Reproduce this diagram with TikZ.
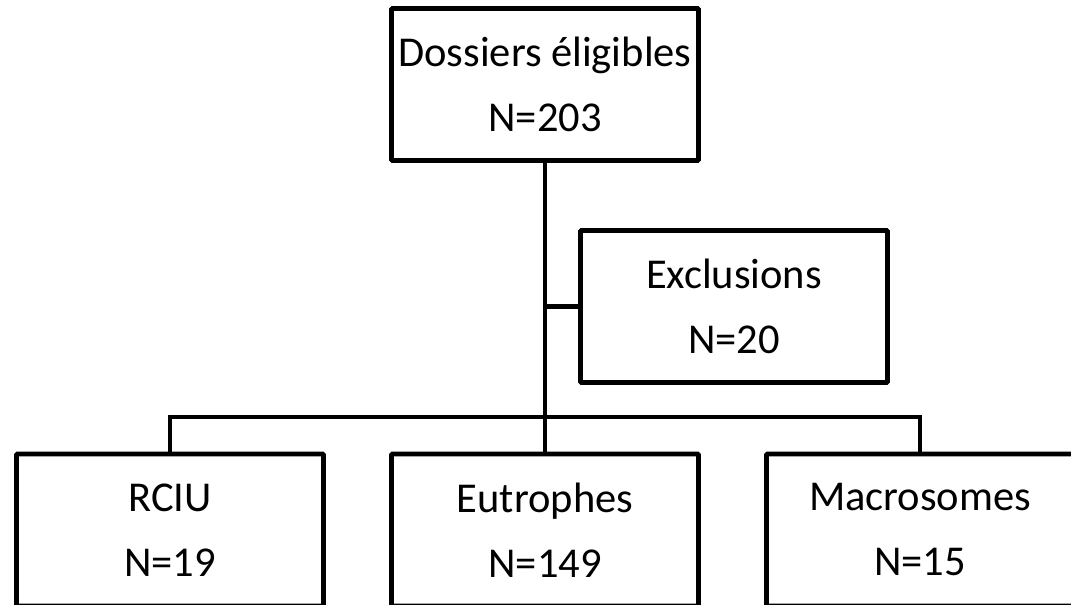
\documentclass[tikz,border=0pt]{standalone}
\usepackage{fontspec}
\setmainfont{Carlito}

\begin{document}
\begin{tikzpicture}[x=1pt, y=1pt, level distance=445.5pt, sibling distance=375pt,
    every node/.style={rectangle, draw, line width=4.7pt, rounded corners=1pt,
        minimum width=307pt, minimum height=152pt, align=center,
        font=\fontsize{42.5}{65}\selectfont},
    edge from parent/.style={draw, line width=4.7pt},
    edge from parent path={(\tikzparentnode.south) |- (\tikzchildnode.north |- bar) -- (\tikzchildnode.north)}]

    \useasboundingbox (0,0) rectangle (1071,-605);
    \clip (0,0) rectangle (1071,-605);
    \coordinate (bar) at (0,-417);

    % Root node
    \node (eligibles) at (545,-84.5) {Dossiers éligibles\\N=203}
        % Left subtree
        child {node (rciu) {RCIU\\N=19}}
        % Middle subtree
        child {node (eutrophes) {Eutrophes\\N=149}}
        % Right subtree
        child {node (macrosomes) {Macrosomes\\N=15}};

    % Side box
    \node (exclusions) at (734,-306.5) {Exclusions\\N=20};
    \draw[line width=4.7pt] (exclusions.west) -- (exclusions.west -| eligibles.south);
\end{tikzpicture}
\end{document}
